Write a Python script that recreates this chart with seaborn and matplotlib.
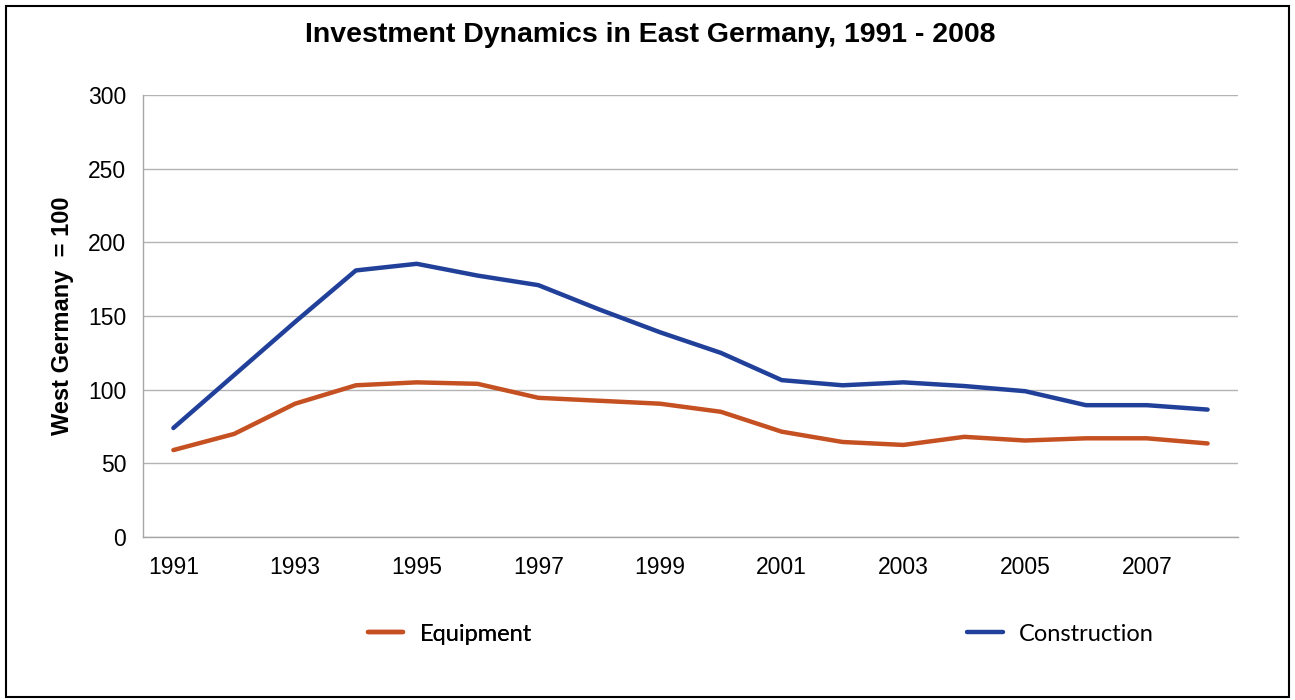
import pandas as pd
import seaborn as sns
import matplotlib.pyplot as plt
from matplotlib.patches import Rectangle

# ----- Data -----
years = list(range(1991, 2009))
equipment = [59, 70, 90.5, 103, 105, 104, 94.5, 92.5, 90.5, 85, 71.5, 64.5, 62.5, 68, 65.5, 67, 67, 63.5]
construction = [74, 110, 146, 181, 185.5, 177.5, 171, 154.5, 139, 125, 106.5, 103, 105, 102.5, 99, 89.5, 89.5, 86.5]
series_names = ['Equipment', 'Construction']
series_colors = ['#C55021', '#21409A']
tick_years = list(range(1991, 2009, 2))

df = pd.DataFrame({'Year': years * 2,
                   'Value': equipment + construction,
                   'Series': [series_names[0]] * len(years) + [series_names[1]] * len(years)})

# ----- Style -----
sns.set_style('white')
plt.rcParams['font.family'] = ['Liberation Sans', 'DejaVu Sans']
plt.rcParams['text.color'] = 'black'
plt.rcParams['axes.labelcolor'] = 'black'
plt.rcParams['xtick.color'] = 'black'
plt.rcParams['ytick.color'] = 'black'

fig = plt.figure(figsize=(12.95, 7.0), dpi=100)
ax = fig.add_axes([0.1104, 0.2329, 0.8456, 0.6311])

sns.lineplot(data=df, x='Year', y='Value', hue='Series', hue_order=series_names,
             palette=series_colors, linewidth=3.2, ax=ax, legend=True)
for line in ax.lines:
    line.set_solid_capstyle('round')
    line.set_solid_joinstyle('round')

# ----- Axes -----
ax.set_xlim(years[0] - 0.5, years[-1] + 0.5)
ax.set_ylim(0, 300)
ax.set_yticks(range(0, 301, 50))
ax.set_xticks(tick_years)
ax.set_xticks([y - 0.5 for y in years] + [years[-1] + 0.5], minor=True)
ax.tick_params(axis='x', which='major', length=0, pad=14, labelsize=16.5)
ax.tick_params(axis='x', which='minor', length=6, width=1, color='#a6a6a6', direction='out')
ax.tick_params(axis='y', which='major', length=6, width=1, color='#a6a6a6', direction='out',
               pad=6, labelsize=16.5, labelcolor='black')
ax.tick_params(axis='x', labelcolor='black')
ax.grid(axis='y', color='#b3b3b3', linewidth=1)
ax.grid(axis='x', visible=False)
for side in ['top', 'right']:
    ax.spines[side].set_visible(False)
for side in ['left', 'bottom']:
    ax.spines[side].set_color('#a6a6a6')
    ax.spines[side].set_linewidth(1)
ax.set_xlabel('')
ax.set_ylabel('West Germany  = 100', fontsize=17, fontweight='bold', labelpad=10)

fig.suptitle('Investment Dynamics in East Germany, 1991 - 2008', fontsize=20.5,
             fontweight='bold', x=0.502, y=0.968)

# ----- Legend: two entries far apart -----
handles, labels = ax.get_legend_handles_labels()
ax.get_legend().remove()
leg_kw = dict(loc='center left', frameon=False, handlelength=1.5, handletextpad=0.7,
              borderpad=0, borderaxespad=0,
              prop={'family': ['Lato', 'DejaVu Sans'], 'size': 17})
leg1 = fig.legend([handles[0]], [labels[0]], bbox_to_anchor=(0.284, 0.094), **leg_kw)
fig.legend([handles[1]], [labels[1]], bbox_to_anchor=(0.747, 0.094), **leg_kw)
fig.add_artist(leg1)

# outer frame
fig.patches.append(Rectangle((0.005, 0.004), 0.99, 0.988, transform=fig.transFigure,
                             fill=False, edgecolor='black', linewidth=1.5))

fig.savefig('out.png', dpi=100)
